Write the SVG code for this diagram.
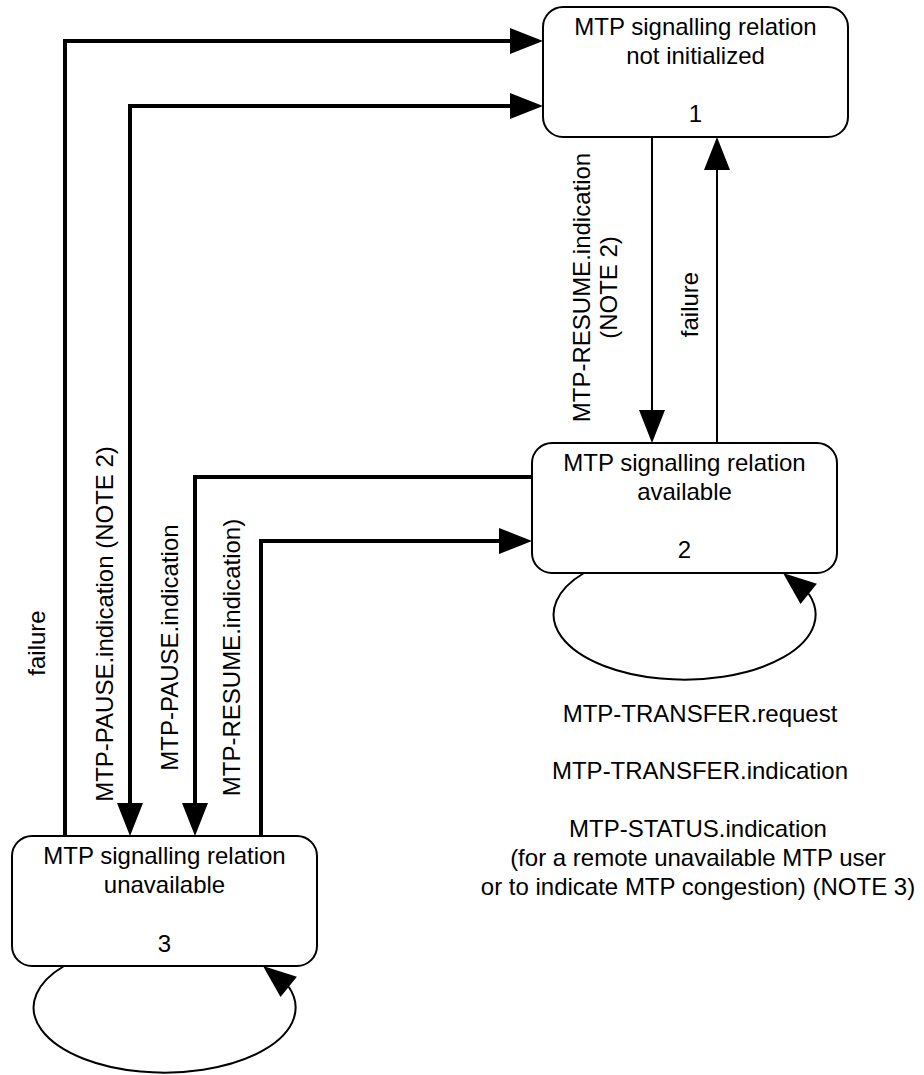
<svg xmlns="http://www.w3.org/2000/svg" width="924" height="1075" viewBox="0 0 924 1075">
<style>
text{font-family:"Liberation Sans",Arial,sans-serif;font-size:24px;fill:#000}
.box{fill:#fff;stroke:#000;stroke-width:2}
.thick{fill:none;stroke:#000;stroke-width:4}
.thin{fill:none;stroke:#000;stroke-width:2}
.mid{text-anchor:middle}
</style>
<defs>
<marker id="ah" markerUnits="userSpaceOnUse" markerWidth="33" markerHeight="26" refX="0" refY="13" orient="auto-start-reverse" viewBox="0 0 33 26">
<path d="M0,0 L33,13 L0,26 z" fill="#000"/>
</marker>
</defs>
<rect width="924" height="1075" fill="#fff"/>
<g id="connectors">
<path class="thick" d="M65,836 V41 H510" marker-end="url(#ah)"/>
<path class="thick" d="M510,106 H130 V803" marker-start="url(#ah)" marker-end="url(#ah)"/>
<path class="thick" d="M532,477 H195 V803" marker-end="url(#ah)"/>
<path class="thick" d="M261,836 V541 H499" marker-end="url(#ah)"/>
<path class="thin" d="M652,137 V410" marker-end="url(#ah)"/>
<path class="thin" d="M717,443 V170" marker-end="url(#ah)"/>
<path class="thin" d="M584,573 A131,65 0 1 0 808.7,593.8"/>
<polygon points="783,573 816.9,583.7 800.5,603.9" fill="#000"/>
<path class="thin" d="M64,966 A131,65 0 1 0 288.7,986.8"/>
<polygon points="263,966 296.9,976.7 280.5,996.9" fill="#000"/>
</g>
<g id="labels">
<text transform="translate(590,287.5) rotate(-90)" class="mid">MTP-RESUME.indication</text>
<text transform="translate(617,287.5) rotate(-90)" class="mid">(NOTE 2)</text>
<text transform="translate(698,304.5) rotate(-90)" class="mid">failure</text>
<text transform="translate(45,643) rotate(-90)" class="mid">failure</text>
<text transform="translate(113,624) rotate(-90)" class="mid">MTP-PAUSE.indication (NOTE 2)</text>
<text transform="translate(178,647.5) rotate(-90)" class="mid">MTP-PAUSE.indication</text>
<text transform="translate(240,657.5) rotate(-90)" class="mid">MTP-RESUME.indication)</text>
<text x="700" y="722" class="mid">MTP-TRANSFER.request</text>
<text x="700" y="779" class="mid">MTP-TRANSFER.indication</text>
<text x="698" y="837" class="mid">MTP-STATUS.indication</text>
<text x="698" y="866" class="mid">(for a remote unavailable MTP user</text>
<text x="698" y="895" class="mid">or to indicate MTP congestion) (NOTE 3)</text>
</g>
<g id="state1">
<rect class="box" x="543" y="7" width="305" height="130" rx="20"/>
<text x="695.5" y="35" class="mid">MTP signalling relation</text>
<text x="695.5" y="64" class="mid">not initialized</text>
<text x="695.5" y="122" class="mid">1</text>
</g>
<g id="state2">
<rect class="box" x="532" y="443" width="305" height="130" rx="20"/>
<text x="684.5" y="471" class="mid">MTP signalling relation</text>
<text x="684.5" y="500" class="mid">available</text>
<text x="684.5" y="558" class="mid">2</text>
</g>
<g id="state3">
<rect class="box" x="12" y="836" width="305" height="130" rx="20"/>
<text x="164.5" y="864" class="mid">MTP signalling relation</text>
<text x="164.5" y="893" class="mid">unavailable</text>
<text x="164.5" y="952" class="mid">3</text>
</g>
</svg>
